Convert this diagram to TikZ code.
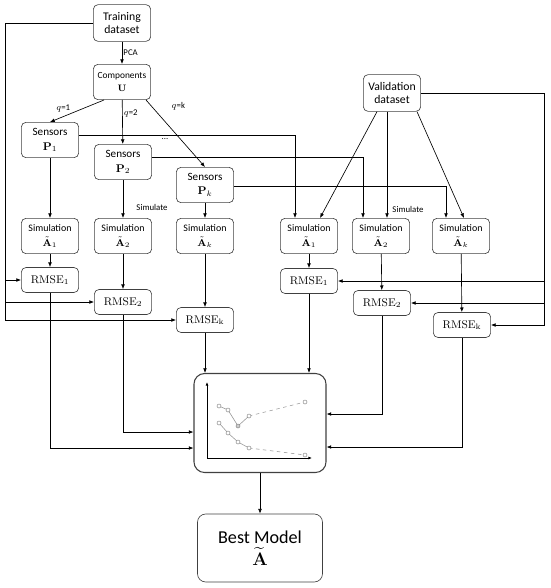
\RequirePackage{fix-cm}
\documentclass[tikz,border=0pt]{standalone}
\usepackage{amsmath, amssymb}
\usepackage[no-math]{fontspec}
\setmainfont{Carlito}
\usetikzlibrary{arrows.meta}

\begin{document}
\begin{tikzpicture}
            [x=0.03cm, y=-0.03cm, >={Latex[length=4pt,width=3.2pt]}, line width=0.55pt,
             box/.style={shape=rectangle, draw=black!75, rounded corners=4pt, align=center, inner sep=0pt, minimum width=1.72cm, minimum height=1.06cm},
             database/.style={box, minimum height=1.1cm, font=\fontsize{10}{10.5}\selectfont},
             sensor/.style={box, font=\fontsize{9.5}{12}\selectfont},
             simbox/.style={box, font=\fontsize{8.5}{12.5}\selectfont},
             errbox/.style={box, minimum height=0.75cm, font=\fontsize{9.5}{10}\selectfont},
             lbl/.style={font=\fontsize{7.5}{8}\selectfont, inner sep=1pt}]
            \useasboundingbox (0,0) rectangle (550,588);

            \node[database] (train) at (122, 23) {Training\\dataset};
            \node[box, font=\fontsize{8}{11}\selectfont] (comp) at (122, 82) {Components\\$\mathbf{U}$};
            \node[database] (val) at (392, 93) {Validation\\dataset};

            \node[sensor] (s1) at (50, 140) {Sensors\\$\mathbf{P}_1$};
            \node[sensor] (s2) at (123, 162) {Sensors\\$\mathbf{P}_2$};
            \node[sensor] (sk) at (205, 185) {Sensors\\$\mathbf{P}_k$};
            \node[lbl] (dots) at (165, 139) {...};

            \node[simbox] (sim1) at (50, 236) {Simulation\\$\tilde{\mathbf{A}}_1$};
            \node[simbox] (sim2) at (123, 236) {Simulation\\$\tilde{\mathbf{A}}_2$};
            \node[simbox] (simk) at (205, 236) {Simulation\\$\tilde{\mathbf{A}}_k$};
            \node[simbox] (vsim1) at (309, 236) {Simulation\\$\tilde{\mathbf{A}}_1$};
            \node[simbox] (vsim2) at (381, 236) {Simulation\\$\tilde{\mathbf{A}}_2$};
            \node[simbox] (vsimk) at (461, 236) {Simulation\\$\tilde{\mathbf{A}}_k$};
            \node[lbl] (simL) at (152, 207) {Simulate};
            \node[lbl] (simR) at (408, 209) {Simulate};

            \node[errbox] (err1) at (50, 280) {$\mathrm{RMSE}_1$};
            \node[errbox] (err2) at (123, 302) {$\mathrm{RMSE}_2$};
            \node[errbox] (errk) at (205, 320) {$\mathrm{RMSE}_\mathrm{k}$};
            \node[errbox] (verr1) at (309, 281) {$\mathrm{RMSE}_1$};
            \node[errbox] (verr2) at (382, 303) {$\mathrm{RMSE}_2$};
            \node[errbox] (verrk) at (462, 325) {$\mathrm{RMSE}_\mathrm{k}$};

            \node[box, rounded corners=9pt, line width=0.9pt, minimum width=3.96cm, minimum height=2.97cm] (plot) at (260, 423) {};
            \node[box, rounded corners=7pt, minimum width=3.75cm, minimum height=2.04cm, font=\fontsize{15.5}{19}\selectfont] (best) at (260, 548) {Best Model\\$\widetilde{\mathbf{A}}$};

            \coordinate (tl) at (5, 23);
            \coordinate (vr) at (544, 93);

            % PCA and the choice of q
            \path [->] (train) edge node[lbl, right] {PCA} (comp);
            \path [->] ([xshift=-0.54cm]comp.south) edge node[lbl, above left, pos=0.6] {$q$=1} (s1.north);
            \path [->] (comp) edge node[lbl, right, pos=0.3] {$q$=2} (s2);
            \path [->] ([xshift=0.72cm]comp.south) edge node[lbl, right, pos=0.1, xshift=0.55cm] {$q$=k} (sk.north);

            \path [->] (s1) edge (sim1);
            \path [->] (s2) edge (sim2);
            \path [->] (sk) edge (simk);
            \draw [->] (s1.east |- 0,135) -| ([xshift=-0.42cm]vsim1.north);
            \draw [->] (s2.east |- 0,157) -| ([xshift=-0.54cm]vsim2.north);
            \draw [->] (sk.east |- 0,186) -| ([xshift=-0.45cm]vsimk.north);

            \draw [->] ([xshift=-0.45cm]val.south) -- ([xshift=0.33cm]vsim1.north);
            \draw [->] ([xshift=-0.15cm]val.south) -- ([xshift=0.18cm]vsim2.north);
            \draw [->] ([xshift=0.75cm]val.south) -- ([xshift=0.09cm]vsimk.north);

            \path [->] (sim1) edge (err1);
            \path [->] (sim2) edge (err2);
            \path [->] (simk) edge (errk);
            \path [->] (vsim1) edge (verr1);
            \path [->] (vsim2) edge (verr2);
            \path [->] (vsimk) edge (verrk);

            % datasets into the errors
            \draw [->] (train.west) -- (tl) |- (err1.west);
            \draw [->] (tl) |- (err2.west);
            \draw [->] (tl) |- (errk.west);
            \draw [->] (val.east) -- (vr) |- (verr1.east);
            \draw [->] (vr) |- (verr2.east);
            \draw [->] (vr) |- (verrk.east);

            % errors into the plot
            \draw [->] (errk) -- (errk |- plot.north);
            \draw [->] (verr1) -- (verr1 |- plot.north);
            \draw [->] (err2) |- (plot.west |- 0,432);
            \draw [->] (err1) |- (plot.west |- 0,448);
            \draw [->] (verr2) |- (plot.east |- 0,414);
            \draw [->] (verrk) |- (plot.east |- 0,447);
            \path [->] (plot) edge (best);

            % the curves inside the plot
            \draw [<->, line width=0.8pt, >={Latex[length=3pt,width=2.4pt]}] (207, 382) -- (207, 458) -- (312, 458);
            \draw [gray!80, line width=0.5pt] (219, 406) -- (228, 410) -- (238, 426) -- (249, 416);
            \draw [gray!80, line width=0.5pt, dashed] (249, 416) -- (305, 402);
            \draw [gray!80, line width=0.5pt] (219, 423) -- (228, 433) -- (238, 442) -- (249, 448);
            \draw [gray!80, line width=0.5pt, dashed] (249, 448) -- (305, 455);
            \foreach \p in {(219, 406), (228, 410), (249, 416), (305, 402), (219, 423), (228, 433), (238, 442), (249, 448), (305, 455)}
                \draw [gray, fill=white, line width=0.4pt] \p circle (0.06cm);
            \draw [gray, fill=gray!40, line width=0.4pt] (238, 426) circle (0.06cm);
        \end{tikzpicture}
\end{document}
